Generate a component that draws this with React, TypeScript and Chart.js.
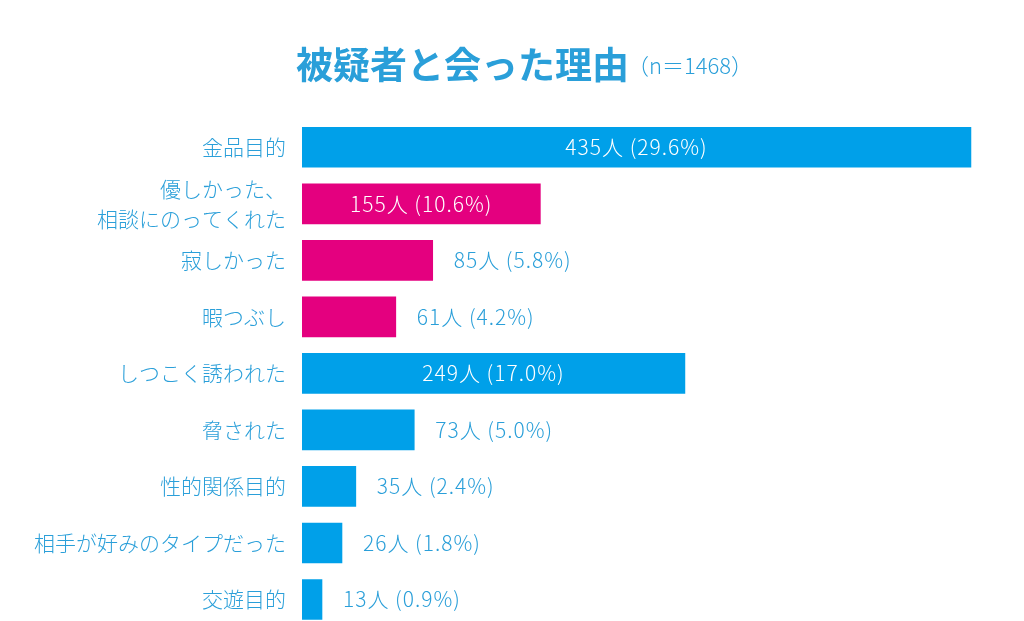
import React, { useEffect, useRef } from "react";
import { Chart, registerables } from "chart.js";

Chart.register(...registerables);

const titleMain = "被疑者と会った理由";
const titleNote = "（n＝1468）";

const categories = [
  "金品目的",
  "優しかった、\n相談にのってくれた",
  "寂しかった",
  "暇つぶし",
  "しつこく誘われた",
  "脅された",
  "性的関係目的",
  "相手が好みのタイプだった",
  "交遊目的",
];
const counts = [435, 155, 85, 61, 249, 73, 35, 26, 13];
const percents = [29.6, 10.6, 5.8, 4.2, 17.0, 5.0, 2.4, 1.8, 0.9];
const emotional = [false, true, true, true, false, false, false, false, false];

const BLUE = "#00a0e9";
const MAGENTA = "#e4007f";
const TEXT_BLUE = "#2a9fd9";
const FONT = "'Noto Sans CJK JP', 'Noto Sans', sans-serif";

export default function App() {
  const ref = useRef<HTMLCanvasElement | null>(null);

  useEffect(() => {
    if (!ref.current) return;

    const valueLabels = {
      id: "valueLabels",
      afterDatasetsDraw(chart: any) {
        const ctx = chart.ctx;
        const meta = chart.getDatasetMeta(0);
        ctx.save();
        ctx.font = `300 21px ${FONT}`;
        (ctx as any).letterSpacing = "1px";
        ctx.textBaseline = "middle";
        meta.data.forEach((bar: any, i: number) => {
          const text = `${counts[i]}人 (${percents[i].toFixed(1)}%)`;
          const w = ctx.measureText(text).width;
          const barW = bar.x - bar.base;
          if (barW > w + 40) {
            ctx.fillStyle = "#ffffff";
            ctx.textAlign = "center";
            ctx.fillText(text, (bar.x + bar.base) / 2, bar.y);
          } else {
            ctx.fillStyle = TEXT_BLUE;
            ctx.textAlign = "left";
            ctx.fillText(text, bar.x + 21, bar.y);
          }
        });
        ctx.restore();
      },
    };

    const titlePlugin = {
      id: "titleDraw",
      afterDraw(chart: any) {
        const ctx = chart.ctx;
        ctx.save();
        ctx.textBaseline = "middle";
        ctx.textAlign = "left";
        ctx.fillStyle = TEXT_BLUE;
        ctx.font = `700 37px ${FONT}`;
        const x0 = 296;
        ctx.fillText(titleMain, x0, 65);
        const w = ctx.measureText(titleMain).width;
        ctx.font = `300 22px ${FONT}`;
        ctx.fillText(titleNote, x0 + w - 2, 66);
        ctx.restore();
      },
    };

    const chart = new Chart(ref.current, {
      type: "bar",
      data: {
        labels: categories.map((c) => (c.includes("\n") ? c.split("\n") : c)),
        datasets: [
          {
            data: counts,
            backgroundColor: emotional.map((e) => (e ? MAGENTA : BLUE)),
            barThickness: 40,
            borderWidth: 0,
          },
        ],
      },
      options: {
        indexAxis: "y",
        animation: false,
        responsive: false,
        layout: { padding: { top: 119, bottom: 12, left: 0, right: 30 } },
        plugins: {
          legend: { display: false },
          title: { display: false },
          tooltip: { enabled: false },
        },
        scales: {
          x: {
            display: false,
            min: 0,
            max: 450,
          },
          y: {
            grid: { display: false, drawTicks: false },
            border: { display: false },
            afterFit: (s: any) => {
              s.width = 302;
            },
            ticks: {
              autoSkip: false,
              padding: 16,
              color: TEXT_BLUE,
              font: { family: FONT, size: 21, weight: "300", lineHeight: 1.45 },
            },
          },
        },
      },
      plugins: [valueLabels, titlePlugin],
    });

    return () => chart.destroy();
  }, []);

  return (
    <div style={{ position: "fixed", left: 0, top: 0, width: 1024, height: 659, background: "#ffffff" }}>
      <canvas ref={ref} width={1024} height={659} style={{ display: "block" }} />
    </div>
  );
}
